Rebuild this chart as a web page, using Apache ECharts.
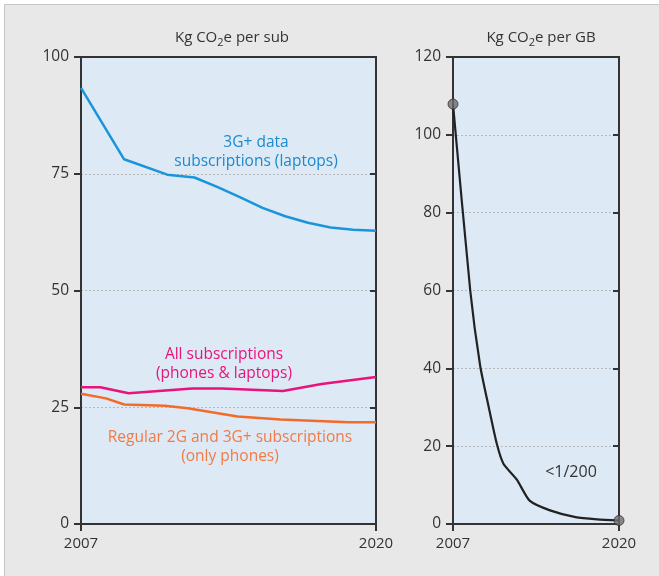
<!DOCTYPE html>
<html>
<head>
<meta charset="utf-8">
<script src="https://cdn.jsdelivr.net/npm/echarts@6/dist/echarts.min.js"></script>
<style>
  body { margin: 0; background: #fff; }
  #frame {
    position: absolute; left: 4px; top: 4px; width: 700px; height: 600px;
    background: #e8e8e8; border: 1px solid #c6c6c6;
  }
  #main { position: absolute; left: 0; top: 0; width: 659px; height: 576px; }
</style>
</head>
<body>
<div id="frame"></div>
<div id="main"></div>
<script>
// Kg CO2e per subscription (left panel)
const laptopYears = [2007, 2008.9, 2010.8, 2012, 2013, 2014, 2015, 2016, 2017, 2018, 2019, 2020]
const laptopValues = [93.4, 78.1, 74.8, 74.2, 72.2, 70.0, 67.7, 65.9, 64.5, 63.5, 63.0, 62.8]
const allYears = [2007, 2007.85, 2009.1, 2011.9, 2013.2, 2015.9, 2017.6, 2020]
const allValues = [29.3, 29.3, 28.0, 29.0, 29.0, 28.5, 30.0, 31.5]
const phoneYears = [2007, 2008.1, 2008.9, 2010.7, 2011.7, 2013.9, 2015.8, 2018.8, 2020]
const phoneValues = [27.9, 26.9, 25.6, 25.3, 24.8, 23.0, 22.4, 21.8, 21.8]

// Kg CO2e per GB (right panel)
const gbYears = [2007, 2008.35, 2009.13, 2009.8, 2010.43, 2010.95, 2012, 2013, 2014.6, 2016.6, 2018.3, 2020]
const gbValues = [107.9, 60, 40.6, 30, 20.6, 15.5, 11.4, 6.0, 3.5, 1.75, 1.2, 0.9]

const yearTicks = [2007, 2020]

const pair = (xs, ys) => xs.map((x, i) => [x, ys[i]])
const FONT = 'Open Sans'
const ink = '#333'

function xAxisFor(grid) {
  return {
    type: 'value', gridIndex: grid, min: 2007, max: 2020,
    axisLine: { lineStyle: { color: ink, width: 2 } },
    axisTick: { customValues: yearTicks, length: 7, lineStyle: { color: ink, width: 2 } },
    axisLabel: {
      customValues: yearTicks, margin: 12, color: ink, fontSize: 15, fontFamily: FONT,
      formatter: (v) => String(v),
    },
    splitLine: { show: false },
  }
}
function yAxisFor(grid, max, step) {
  return [
    {
      type: 'value', gridIndex: grid, min: 0, max: max, interval: step,
      axisLine: { show: true, lineStyle: { color: ink, width: 2 } },
      axisTick: { show: true, length: 7, lineStyle: { color: ink, width: 2 } },
      axisLabel: { margin: 12, color: ink, fontSize: 15.5, fontFamily: FONT },
      splitLine: {
        show: true, showMinLine: false, showMaxLine: false,
        lineStyle: { color: '#b8b8b8', type: [2, 2], width: 1 },
      },
    },
    {
      type: 'value', gridIndex: grid, position: 'right', min: 0, max: max, interval: step,
      axisLine: { show: true, lineStyle: { color: ink, width: 2 } },
      axisTick: { show: true, inside: true, length: 6, lineStyle: { color: ink, width: 2 } },
      axisLabel: { show: false },
      splitLine: { show: false },
    },
  ]
}

const titleRich = {
  a: { fontSize: 15, fontFamily: FONT, fontWeight: 'normal', color: ink },
  s: { fontSize: 11, fontFamily: FONT, fontWeight: 'normal', color: ink, padding: [9, 0, 0, 0] },
}
function note(x, y, lines, color, size) {
  return {
    type: 'text', x: x, y: y,
    style: {
      text: lines.join('\n'), fill: color, font: (size || 15.5) + 'px "' + FONT + '"',
      textAlign: 'center', textVerticalAlign: 'top', lineHeight: 19,
    },
  }
}

const chart = echarts.init(document.getElementById('main'))
chart.setOption({
  animation: false,
  grid: [
    { left: 81, top: 57, right: 283, bottom: 52, show: true, backgroundColor: '#dde9f5', borderColor: ink, borderWidth: 2 },
    { left: 453, top: 57, right: 40, bottom: 52, show: true, backgroundColor: '#dde9f5', borderColor: ink, borderWidth: 2 },
  ],
  title: [
    { text: '{a|Kg CO}{s|2}{a|e per sub}', left: 227, top: 23, textAlign: 'center', textStyle: { rich: titleRich } },
    { text: '{a|Kg CO}{s|2}{a|e per GB}', left: 536, top: 23, textAlign: 'center', textStyle: { rich: titleRich } },
  ],
  xAxis: [xAxisFor(0), xAxisFor(1)],
  yAxis: [...yAxisFor(0, 100, 25), ...yAxisFor(1, 120, 20)],
  series: [
    {
      name: '3G+ data subscriptions (laptops)', type: 'line', xAxisIndex: 0, yAxisIndex: 0,
      data: pair(laptopYears, laptopValues), symbol: 'none',
      lineStyle: { color: '#1a94da', width: 2.5 },
    },
    {
      name: 'All subscriptions (phones & laptops)', type: 'line', xAxisIndex: 0, yAxisIndex: 0,
      data: pair(allYears, allValues), symbol: 'none',
      lineStyle: { color: '#e8137b', width: 2.5 },
    },
    {
      name: 'Regular 2G and 3G+ subscriptions (only phones)', type: 'line', xAxisIndex: 0, yAxisIndex: 0,
      data: pair(phoneYears, phoneValues), symbol: 'none',
      lineStyle: { color: '#f26b2a', width: 2.5 },
    },
    {
      name: 'Kg CO2e per GB', type: 'line', xAxisIndex: 1, yAxisIndex: 2,
      data: pair(gbYears, gbValues), symbol: 'none', smooth: 0.2,
      lineStyle: { color: '#222', width: 2.2 },
    },
    {
      type: 'scatter', xAxisIndex: 1, yAxisIndex: 2, z: 5,
      data: [
        [gbYears[0], gbValues[0]],
        [gbYears[gbYears.length - 1], gbValues[gbValues.length - 1]],
      ],
      symbolSize: 10,
      itemStyle: { color: '#6e6e6e', borderColor: '#333', borderWidth: 1 },
    },
  ],
  graphic: [
    note(256, 133, ['3G+ data', 'subscriptions (laptops)'], '#1a8ad0'),
    note(224, 345, ['All subscriptions', '(phones & laptops)'], '#e8137b'),
    note(230, 428, ['Regular 2G and 3G+ subscriptions', '(only phones)'], '#f47a44'),
    note(571, 463, ['<1/200'], ink, 16),
  ],
})
</script>
</body>
</html>
